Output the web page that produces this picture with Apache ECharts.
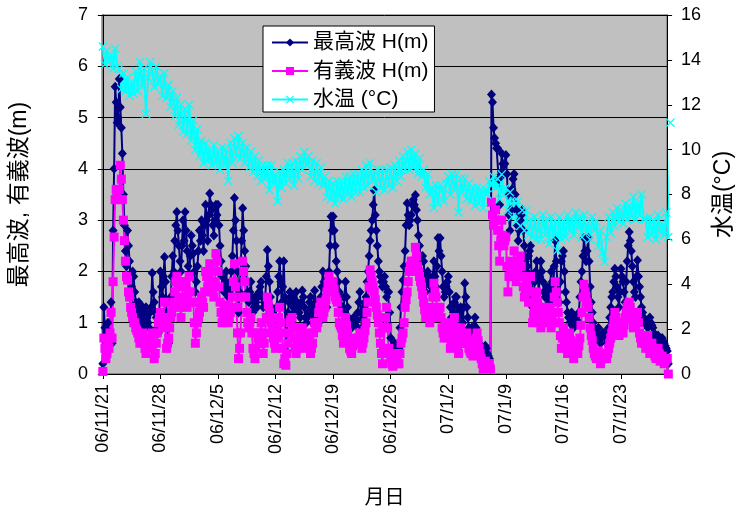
<!DOCTYPE html>
<html>
<head>
<meta charset="utf-8">
<script src="https://cdn.jsdelivr.net/npm/echarts@6/dist/echarts.min.js"></script>
<style>
  html, body { margin: 0; padding: 0; background: #fff; }
  #chart { width: 743px; height: 516px; }
</style>
</head>
<body>
<div id="chart"></div>
<script>
// Wave heights every 3 hours, water temperature every 6 hours,
// both starting 2006-11-21 00:00.
const WAVE_PER_DAY = 8;
const TEMP_PER_DAY = 4;

// Weekly tick labels (day offsets 0, 7, 14, ...)
const tickLabels = ['06/11/21', '06/11/28', '06/12/5', '06/12/12', '06/12/19',
  '06/12/26', '07/1/2', '07/1/9', '07/1/16', '07/1/23'];

const seriesNames = ['最高波 H(m)', '有義波 H(m)', '水温 (°C)'];

// 最高波 H(m), one row per day
const maxWave = [
  0.2, 1.3, 0.9, 0.3, 0.5, 1.0, 0.6, 0.8,
  1.4, 0.6, 2.8, 4.0, 5.6, 5.3, 4.9, 5.0,
  5.75, 5.2, 4.8, 4.3, 3.5, 2.9, 2.4, 2.1,
  2.8, 2.5, 2.2, 1.9, 1.7, 2.0, 1.9, 1.6,
  1.4, 1.3, 1.1, 1.4, 1.2, 1.05, 1.0, 1.3,
  0.9, 1.2, 1.3, 1.1, 1.0, 0.9, 1.2, 1.3,
  1.97, 1.6, 1.4, 1.2, 1.1, 0.9, 0.8, 1.2,
  2.0, 1.7, 1.5, 1.9, 2.28, 1.8, 1.2, 0.9,
  0.6, 1.2, 1.5, 1.9, 2.3, 2.0, 2.6, 2.9,
  3.16, 2.8, 2.5, 2.2, 2.0, 2.5, 3.0, 2.6,
  3.16, 2.8, 2.4, 2.1, 1.9, 2.3, 2.7, 2.5,
  2.35, 2.0, 1.6, 1.8, 2.1, 2.4, 2.8, 2.6,
  3.0, 2.7, 2.4, 2.9, 3.3, 3.0, 2.6, 3.1,
  3.52, 3.3, 3.2, 2.9, 2.7, 3.0, 3.3, 3.1,
  3.3, 2.9, 2.5, 2.2, 1.9, 1.7, 1.6, 1.8,
  2.0, 1.7, 1.5, 1.6, 1.8, 2.0, 2.3, 2.8,
  3.43, 3.0, 2.6, 2.0, 1.2, 1.6, 2.0, 2.6,
  3.23, 2.8, 2.4, 2.1, 1.8, 1.6, 1.4, 1.6,
  1.8, 1.5, 1.2, 1.3, 1.5, 1.4, 1.3, 1.5,
  1.6, 1.7, 1.8, 1.5, 1.3, 1.4, 1.5, 1.9,
  2.42, 2.1, 1.8, 1.5, 1.3, 1.2, 1.1, 1.0,
  1.0, 1.3, 1.6, 1.9, 2.2, 1.8, 1.4, 1.7,
  2.2, 1.5, 0.46, 0.8, 1.2, 1.4, 1.6, 1.5,
  1.5, 1.3, 1.2, 1.4, 1.6, 1.4, 1.3, 1.2,
  1.1, 1.4, 1.63, 1.5, 1.3, 1.1, 1.0, 1.1,
  1.2, 1.4, 1.5, 1.2, 1.0, 1.3, 1.63, 1.4,
  1.3, 1.1, 1.0, 1.2, 1.5, 1.7, 2.0, 1.8,
  1.7, 1.5, 1.3, 1.6, 2.0, 2.5, 3.07, 2.8,
  3.07, 2.8, 2.5, 2.2, 2.0, 1.8, 1.6, 1.5,
  1.5, 1.3, 1.2, 1.5, 1.8, 1.5, 1.3, 1.1,
  1.0, 0.95, 0.9, 1.0, 1.1, 1.0, 0.95, 1.05,
  1.2, 1.4, 1.6, 1.2, 0.9, 1.1, 1.3, 1.4,
  1.5, 1.8, 2.0, 2.3, 2.6, 2.8, 3.0, 3.3,
  3.58, 3.1, 2.8, 2.5, 2.2, 2.0, 1.9, 1.8,
  1.7, 1.8, 1.9, 1.7, 1.5, 1.6, 1.6, 1.2,
  0.7, 0.5, 0.4, 0.5, 0.6, 0.45, 0.35, 0.4,
  0.5, 0.9, 1.3, 1.6, 1.83, 2.1, 2.4, 2.9,
  3.33, 3.1, 2.9, 3.0, 3.1, 3.3, 3.4, 3.3,
  3.49, 3.2, 3.0, 2.7, 2.5, 2.3, 2.2, 2.3,
  2.2, 1.9, 1.6, 1.8, 2.0, 1.9, 1.8, 1.7,
  1.6, 1.9, 2.2, 1.9, 1.7, 2.1, 2.65, 2.4,
  2.65, 2.3, 2.0, 1.7, 1.5, 1.6, 1.7, 1.8,
  1.9, 1.6, 1.3, 1.1, 1.0, 1.2, 1.4, 1.5,
  1.5, 1.3, 1.1, 1.2, 1.3, 1.1, 1.0, 1.3,
  1.77, 1.5, 1.3, 1.1, 0.9, 0.85, 0.8, 0.8,
  0.8, 0.95, 1.1, 0.9, 0.7, 0.65, 0.6, 0.55,
  0.5, 0.4, 0.35, 0.45, 0.55, 0.5, 0.4, 0.35,
  0.3, 0.1, 5.45, 5.3, 4.8, 4.6, 4.5, 4.4,
  4.4, 3.8, 3.3, 3.9, 4.3, 4.1, 3.9, 4.1,
  4.27, 3.9, 3.5, 3.1, 2.8, 3.2, 3.6, 3.8,
  3.9, 3.5, 3.2, 2.9, 2.6, 2.8, 3.0, 3.1,
  3.2, 2.8, 2.5, 2.2, 2.0, 2.1, 2.3, 2.4,
  2.5, 1.9, 1.3, 1.5, 1.8, 2.0, 2.2, 1.9,
  1.6, 1.9, 2.2, 2.0, 1.8, 1.6, 1.5, 1.6,
  1.7, 1.5, 1.4, 1.7, 2.0, 1.8, 1.6, 2.1,
  2.6, 2.2, 1.8, 1.6, 1.4, 1.8, 2.2, 2.3,
  2.4, 2.0, 1.6, 1.4, 1.2, 1.1, 1.0, 1.1,
  1.2, 1.0, 0.9, 1.0, 1.1, 1.05, 1.0, 1.2,
  1.5, 1.8, 2.0, 2.3, 2.65, 2.4, 2.2, 2.4,
  2.65, 2.2, 1.7, 1.4, 1.2, 1.0, 0.9, 0.8,
  0.7, 0.8, 0.9, 0.75, 0.6, 0.7, 0.8, 0.8,
  0.8, 0.7, 0.6, 0.75, 0.9, 1.1, 1.3, 1.5,
  1.6, 1.8, 2.05, 1.9, 1.7, 1.5, 1.3, 1.6,
  2.05, 1.9, 1.8, 1.6, 1.4, 1.8, 2.2, 2.5,
  2.77, 2.6, 2.4, 2.1, 1.8, 1.6, 1.5, 1.9,
  2.22, 1.9, 1.7, 1.5, 1.3, 1.2, 1.1, 1.05,
  1.0, 0.95, 0.9, 1.0, 1.1, 1.0, 0.95, 0.9,
  0.8, 0.7, 0.6, 0.7, 0.75, 0.6, 0.5, 0.6,
  0.7, 0.65, 0.6, 0.55, 0.5, 0.45, 0.2
];

// 有義波 H(m), one row per day
const sigWave = [
  0.05, 0.7, 0.5, 0.3, 0.4, 0.6, 0.5, 0.8,
  1.2, 0.7, 1.8, 2.67, 3.4, 3.6, 3.5, 3.4,
  3.6, 4.07, 3.8, 3.4, 3.0, 2.6, 2.2, 1.9,
  1.83, 1.6, 1.5, 1.3, 1.2, 1.1, 1.0, 1.0,
  0.9, 0.85, 0.8, 0.7, 0.6, 0.65, 0.7, 0.8,
  0.6, 0.5, 0.4, 0.55, 0.7, 0.6, 0.5, 0.7,
  0.8, 0.6, 0.3, 0.4, 0.6, 0.8, 1.0, 1.1,
  1.2, 1.0, 0.9, 1.1, 1.4, 1.0, 0.5, 0.6,
  0.7, 0.9, 1.1, 1.2, 1.3, 1.4, 1.6, 1.8,
  1.9, 1.7, 1.5, 1.3, 1.1, 1.4, 1.8, 1.8,
  1.7, 1.5, 1.3, 1.6, 1.9, 1.6, 1.4, 1.4,
  1.4, 1.0, 0.6, 0.8, 1.0, 1.1, 1.2, 1.3,
  1.5, 1.4, 1.3, 1.6, 2.0, 1.9, 1.7, 1.9,
  2.15, 2.0, 1.8, 1.6, 1.5, 1.8, 2.35, 2.2,
  2.0, 1.7, 1.4, 1.2, 1.0, 1.1, 1.2, 1.3,
  1.35, 1.2, 1.0, 1.1, 1.2, 1.3, 1.5, 1.8,
  2.15, 1.7, 1.3, 0.8, 0.3, 0.5, 0.8, 1.5,
  2.2, 2.0, 1.8, 1.5, 1.2, 1.0, 0.9, 1.0,
  1.1, 0.8, 0.5, 0.4, 0.3, 0.5, 0.8, 0.7,
  0.6, 0.8, 1.0, 0.7, 0.4, 0.6, 0.8, 1.1,
  1.5, 1.35, 1.2, 1.1, 1.0, 0.85, 0.7, 0.6,
  0.5, 0.7, 0.9, 1.1, 1.3, 1.0, 0.8, 0.5,
  0.2, 0.3, 0.17, 0.4, 0.6, 0.8, 1.0, 1.05,
  1.1, 0.9, 0.7, 0.5, 0.4, 0.6, 0.9, 0.8,
  0.6, 0.75, 0.9, 0.7, 0.5, 0.6, 0.7, 0.75,
  0.8, 0.6, 0.4, 0.5, 0.6, 0.8, 1.0, 0.95,
  0.9, 1.0, 1.2, 1.3, 1.4, 1.2, 1.1, 1.2,
  1.3, 1.45, 1.6, 1.75, 1.9, 1.8, 1.7, 1.75,
  1.8, 1.65, 1.5, 1.45, 1.4, 1.2, 1.0, 0.95,
  0.9, 0.75, 0.6, 0.85, 1.1, 0.95, 0.8, 0.65,
  0.5, 0.45, 0.4, 0.55, 0.7, 0.65, 0.6, 0.6,
  0.6, 0.7, 0.8, 0.65, 0.5, 0.6, 0.7, 0.85,
  1.0, 1.2, 1.4, 1.7, 2.03, 1.9, 1.8, 1.7,
  1.6, 1.45, 1.3, 1.15, 1.0, 0.8, 0.6, 0.4,
  0.2, 0.5, 0.9, 1.1, 1.3, 0.9, 0.5, 0.4,
  0.3, 0.2, 0.15, 0.3, 0.4, 0.3, 0.25, 0.2,
  0.2, 0.4, 0.6, 0.7, 0.8, 1.0, 1.3, 1.45,
  1.6, 1.8, 2.0, 2.1, 2.2, 2.1, 2.0, 2.2,
  2.47, 2.3, 2.1, 2.0, 1.9, 1.8, 1.7, 1.55,
  1.4, 1.25, 1.1, 1.2, 1.3, 1.15, 1.0, 1.1,
  1.2, 1.5, 1.77, 1.6, 1.5, 1.3, 1.1, 1.2,
  1.3, 1.1, 0.9, 0.8, 0.7, 0.85, 1.0, 0.95,
  0.9, 0.7, 0.5, 0.65, 0.8, 0.95, 1.1, 0.9,
  0.7, 0.55, 0.4, 0.65, 0.9, 0.75, 0.6, 0.6,
  0.6, 0.7, 0.8, 0.65, 0.5, 0.45, 0.4, 0.4,
  0.35, 0.5, 0.6, 0.7, 0.8, 0.65, 0.5, 0.4,
  0.3, 0.2, 0.1, 0.2, 0.25, 0.2, 0.15, 0.2,
  0.2, 0.1, 3.35, 3.1, 2.9, 3.0, 3.2, 3.0,
  2.8, 2.5, 2.2, 2.6, 3.0, 2.7, 2.5, 2.6,
  2.67, 2.1, 1.6, 1.9, 2.2, 2.0, 1.9, 2.1,
  2.4, 2.1, 1.8, 1.95, 2.1, 2.2, 2.3, 2.1,
  1.9, 1.7, 1.5, 1.65, 1.8, 1.6, 1.4, 1.6,
  1.9, 1.4, 1.0, 1.15, 1.3, 1.45, 1.6, 1.4,
  1.2, 1.05, 0.9, 1.1, 1.3, 1.2, 1.1, 1.05,
  1.0, 1.15, 1.3, 1.1, 0.9, 1.05, 1.2, 1.5,
  1.8, 1.6, 1.4, 1.2, 1.0, 0.75, 0.5, 0.7,
  0.9, 0.75, 0.6, 0.5, 0.4, 0.6, 0.8, 0.65,
  0.5, 0.4, 0.3, 0.45, 0.6, 0.5, 0.4, 0.55,
  0.7, 0.95, 1.2, 1.5, 1.75, 1.6, 1.5, 1.4,
  1.3, 1.1, 0.9, 0.75, 0.65, 0.5, 0.4, 0.35,
  0.3, 0.4, 0.45, 0.3, 0.2, 0.3, 0.35, 0.4,
  0.4, 0.35, 0.3, 0.4, 0.5, 0.6, 0.7, 0.8,
  0.9, 1.05, 1.2, 1.1, 1.0, 0.85, 0.75, 0.9,
  1.0, 0.9, 0.8, 0.95, 1.1, 1.2, 1.3, 1.35,
  1.4, 1.3, 1.2, 1.05, 0.9, 1.0, 1.1, 1.15,
  1.2, 1.0, 0.8, 0.7, 0.6, 0.65, 0.7, 0.6,
  0.5, 0.6, 0.75, 0.6, 0.4, 0.5, 0.6, 0.5,
  0.4, 0.35, 0.3, 0.4, 0.5, 0.4, 0.25, 0.3,
  0.35, 0.3, 0.2, 0.25, 0.3, 0.3, 0.0
];

// 水温 (°C), one row per day
const waterTemp = [
  14.6, 13.8, 14.4, 13.9,  14.2, 13.6, 14.5, 13.7,  13.6, 12.7, 13.4, 12.6,  13.2, 12.4, 13.0, 12.5,
  13.5, 12.6, 13.9, 12.8,  13.6, 11.6, 13.2, 13.9,  13.5, 12.8, 13.7, 12.9,  13.3, 12.4, 13.4, 12.3,
  12.9, 11.9, 12.6, 11.5,  12.3, 11.1, 12.0, 10.8,  11.8, 10.7, 12.0, 10.4,  11.3, 10.0, 10.9, 9.7,
  10.4, 9.4, 10.3, 9.5,    10.0, 9.3, 10.2, 9.4,    9.9, 9.1, 10.1, 9.3,     10.0, 8.6, 10.3, 9.4,
  10.5, 9.7, 10.6, 9.6,    10.3, 9.4, 10.1, 9.2,    9.9, 9.0, 9.7, 8.8,      9.5, 8.6, 9.3, 8.7,
  9.3, 8.2, 9.3, 8.5,      8.9, 7.7, 9.0, 8.3,      9.1, 8.5, 9.4, 8.7,      9.4, 8.4, 9.5, 8.7,
  9.7, 9.1, 9.9, 9.3,      9.7, 8.8, 9.5, 8.6,      9.4, 8.5, 9.2, 8.4,      8.8, 7.9, 8.6, 7.8,
  8.5, 7.6, 8.6, 7.9,      8.6, 7.8, 8.8, 8.0,      8.8, 7.9, 8.9, 8.1,      8.9, 8.1, 9.1, 8.3,
  9.3, 8.4, 9.4, 8.6,      9.0, 8.1, 9.1, 8.3,      9.1, 8.2, 9.1, 8.4,      9.2, 8.3, 9.3, 8.6,
  9.5, 8.8, 9.7, 9.1,      9.9, 9.1, 10.0, 9.2,     9.8, 8.9, 9.6, 8.8,      9.1, 8.3, 8.9, 8.0,
  8.3, 7.4, 8.4, 7.6,      8.4, 8.2, 7.7, 8.5,      8.8, 8.0, 8.9, 8.2,      8.9, 7.2, 8.7, 8.1,
  8.7, 7.8, 8.5, 7.7,      8.3, 7.5, 8.3, 7.6,      8.2, 7.4, 8.2, 8.0,      8.6, 8.4, 8.8, 8.3,
  8.7, 7.8, 8.9, 8.0,      8.3, 7.3, 8.1, 7.0,      7.7, 6.8, 7.7, 6.6,      7.3, 6.4, 7.3, 6.2,
  6.9, 6.1, 7.0, 6.0,      6.8, 6.0, 7.1, 6.2,      6.9, 5.8, 7.0, 6.1,      6.7, 5.5, 7.0, 6.0,
  6.8, 6.1, 7.1, 6.4,      6.9, 6.2, 7.2, 6.5,      7.0, 6.1, 7.1, 6.3,      6.7, 6.0, 7.0, 6.4,
  6.8, 5.7, 6.4, 5.4,      5.0, 6.1, 7.0, 6.3,      7.2, 6.6, 7.4, 6.8,      7.3, 6.7, 7.6, 6.9,
  7.5, 7.0, 7.9, 6.9,      7.6, 7.1, 8.0, 6.9,      6.9, 6.1, 7.0, 6.2,      6.8, 6.0, 7.1, 6.3,
  6.7, 6.2, 7.2, 6.1,      11.2
];

const FONT = "'Liberation Sans', 'Noto Sans CJK JP', sans-serif";

// pair each reading with its day offset
function toPoints(values, perDay) {
  return values.map((v, i) => [i / perDay, v]);
}

const tickDays = tickLabels.map((_, i) => i * 7);

const crossSymbol = 'path://M0,1 L1,0 L5,4 L9,0 L10,1 L6,5 L10,9 L9,10 L5,6 L1,10 L0,9 L4,5 Z';

const chart = echarts.init(document.getElementById('chart'), null, { renderer: 'canvas' });

chart.setOption({
  animation: false,
  textStyle: { fontFamily: FONT, color: '#000' },
  grid: {
    left: 101, right: 74, top: 15, bottom: 142,
    show: true, backgroundColor: '#C0C0C0', borderColor: '#505050', borderWidth: 1
  },
  legend: {
    orient: 'vertical',
    left: 263, top: 26,
    backgroundColor: '#fff',
    borderColor: '#000', borderWidth: 1, borderRadius: 0,
    padding: [6, 6, 2, 8],
    itemWidth: 36, itemHeight: 10, itemGap: 7.5,
    textStyle: { fontFamily: FONT, fontSize: 21, color: '#000', lineHeight: 21 },
    data: seriesNames
  },
  xAxis: {
    type: 'value',
    min: -0.1, max: 68.6,
    splitLine: { show: false },
    axisLine: { show: true, onZero: false, lineStyle: { color: '#000', width: 1 } },
    axisTick: { show: true, length: 5, inside: false, customValues: tickDays, lineStyle: { color: '#000' } },
    axisLabel: {
      customValues: tickDays,
      rotate: 90, margin: 10, fontSize: 18, fontFamily: FONT, color: '#000',
      formatter: v => tickLabels[Math.round(v / 7)]
    },
    name: '月日', nameLocation: 'middle', nameGap: 114,
    nameTextStyle: { fontSize: 20, fontFamily: FONT, color: '#000' }
  },
  yAxis: [
    {
      type: 'value', min: 0, max: 7, interval: 1, position: 'left',
      axisLine: { show: true, lineStyle: { color: '#000' } },
      axisTick: { show: true, length: 5, lineStyle: { color: '#000' } },
      axisLabel: { fontSize: 18, margin: 14, fontFamily: FONT, color: '#000' },
      splitLine: { show: true, lineStyle: { color: '#000', width: 1 } },
      name: '最高波, 有義波(m)', nameLocation: 'middle', nameRotate: 90, nameGap: 71,
      nameTextStyle: { fontSize: 23, fontFamily: FONT, color: '#000' }
    },
    {
      type: 'value', min: 0, max: 16, interval: 2, position: 'right',
      axisLine: { show: true, lineStyle: { color: '#000' } },
      axisTick: { show: true, length: 5, lineStyle: { color: '#000' } },
      axisLabel: { fontSize: 18, margin: 14, fontFamily: FONT, color: '#000' },
      splitLine: { show: false },
      name: '水温(°C)', nameLocation: 'middle', nameRotate: 90, nameGap: 44,
      nameTextStyle: { fontSize: 23, fontFamily: FONT, color: '#000' }
    }
  ],
  series: [
    {
      name: seriesNames[0], type: 'line', yAxisIndex: 0,
      data: toPoints(maxWave, WAVE_PER_DAY),
      clip: false, showAllSymbol: true,
      symbol: 'diamond', symbolSize: [9, 10],
      lineStyle: { color: '#000080', width: 2 },
      itemStyle: { color: '#000080' }
    },
    {
      name: seriesNames[1], type: 'line', yAxisIndex: 0,
      data: toPoints(sigWave, WAVE_PER_DAY),
      clip: false, showAllSymbol: true,
      symbol: 'rect', symbolSize: 9,
      lineStyle: { color: '#FF00FF', width: 2 },
      itemStyle: { color: '#FF00FF' }
    },
    {
      name: seriesNames[2], type: 'line', yAxisIndex: 1,
      data: toPoints(waterTemp, TEMP_PER_DAY),
      clip: false, showAllSymbol: true,
      symbol: crossSymbol, symbolSize: 9,
      lineStyle: { color: '#00FFFF', width: 2 },
      itemStyle: { color: '#00FFFF' }
    }
  ]
});
</script>
</body>
</html>
